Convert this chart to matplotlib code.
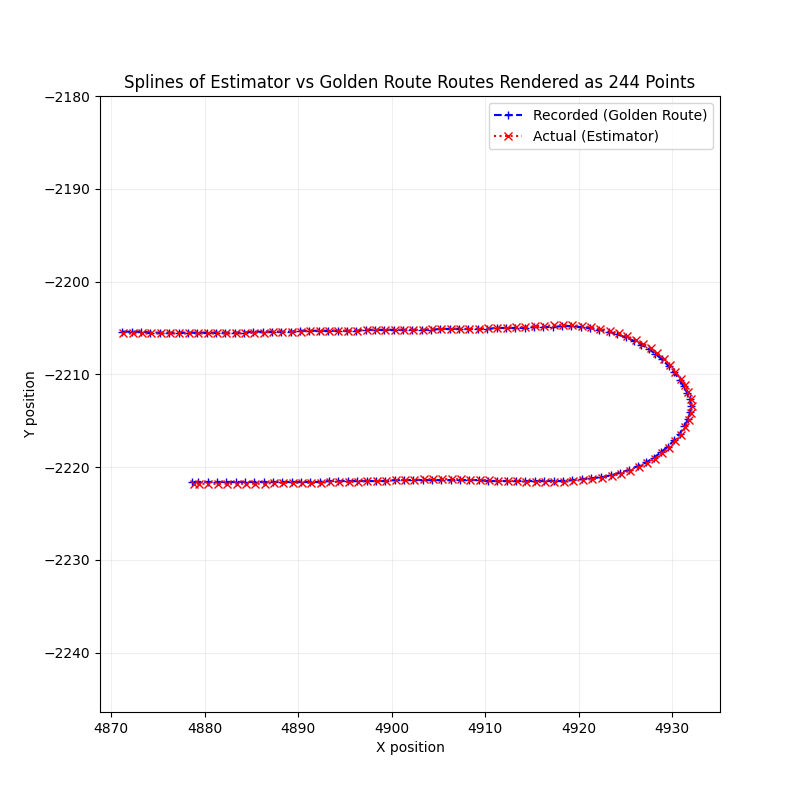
import matplotlib
matplotlib.use("Agg")
import matplotlib.pyplot as plt

rec_x = [4871.2,4872.2,4873.2,4874.2,4875.2,4876.2,4877.2,4878.2,4879.2,4880.2,4881.2,4882.2,4883.2,4884.2,4885.2,4886.2,4887.2,4888.2,4889.2,4890.2,
         4891.2,4892.2,4893.2,4894.2,4895.2,4896.2,4897.2,4898.2,4899.2,4900.2,4901.2,4902.2,4903.2,4904.2,4905.2,4906.2,4907.2,4908.2,4909.2,4910.2,
         4911.2,4912.2,4913.2,4914.2,4915.2,4916.2,4917.2,
         4918.2,4919.2,4920.2,4921.2,4922.2,4923.2,4924.1,4925.0,4925.9,4926.7,4927.5,4928.2,4928.9,4929.6,4930.2,4930.8,4931.2,4931.6,4931.9,4932.0,
         4931.9,4931.7,4931.3,4930.8,4930.2,4929.5,4928.8,4928.0,4927.2,4926.3,4925.4,4924.4,4923.4,4922.4,4921.3,4920.3,4919.3,4918.3,4917.3,
         4916.3,4915.3,4914.3,4913.3,4912.3,4911.3,4910.3,4909.3,4908.3,4907.3,4906.3,4905.3,4904.3,4903.3,4902.3,4901.3,4900.3,4899.3,4898.3,4897.3,
         4896.3,4895.3,4894.3,4893.3,4892.3,4891.3,4890.3,4889.3,4888.3,4887.3,4886.3,4885.3,4884.3,4883.3,4882.3,4881.3,4880.3,4879.3,4878.6]
rec_y = [-2205.4,-2205.4,-2205.4,-2205.5,-2205.5,-2205.5,-2205.5,-2205.5,-2205.5,-2205.5,-2205.5,-2205.5,-2205.5,-2205.5,-2205.4,-2205.4,-2205.4,-2205.4,-2205.4,-2205.3,
         -2205.3,-2205.3,-2205.3,-2205.3,-2205.3,-2205.3,-2205.2,-2205.2,-2205.2,-2205.2,-2205.2,-2205.2,-2205.2,-2205.2,-2205.1,-2205.1,-2205.1,-2205.1,-2205.1,-2205.1,
         -2205.0,-2205.0,-2205.0,-2205.0,-2204.9,-2204.9,-2204.9,
         -2204.8,-2204.8,-2204.9,-2205.0,-2205.2,-2205.4,-2205.7,-2206.0,-2206.4,-2206.8,-2207.3,-2207.8,-2208.4,-2209.1,-2209.8,-2210.6,-2211.3,-2212.0,-2212.7,-2213.4,
         -2214.1,-2214.8,-2215.6,-2216.4,-2217.1,-2217.8,-2218.4,-2219.0,-2219.5,-2219.9,-2220.3,-2220.6,-2220.9,-2221.1,-2221.2,-2221.3,-2221.4,-2221.5,-2221.5,
         -2221.5,-2221.5,-2221.5,-2221.5,-2221.5,-2221.5,-2221.5,-2221.4,-2221.4,-2221.4,-2221.4,-2221.4,-2221.4,-2221.4,-2221.4,-2221.4,-2221.4,-2221.5,-2221.5,-2221.5,
         -2221.5,-2221.5,-2221.5,-2221.5,-2221.6,-2221.6,-2221.6,-2221.6,-2221.6,-2221.6,-2221.6,-2221.6,-2221.6,-2221.6,-2221.6,-2221.6,-2221.6,-2221.6,-2221.6]

est_x = [4871.3,4872.3,4873.3,4874.3,4875.3,4876.3,4877.3,4878.3,4879.3,4880.3,4881.3,4882.3,4883.3,4884.3,4885.3,4886.3,4887.3,4888.3,4889.3,4890.3,
         4891.3,4892.3,4893.3,4894.3,4895.3,4896.3,4897.3,4898.3,4899.3,4900.3,4901.3,4902.3,4903.3,4904.3,4905.3,4906.3,4907.3,4908.3,4909.3,4910.3,
         4911.3,4912.3,4913.3,4914.3,4915.3,4916.3,4917.3,
         4918.3,4919.3,4920.3,4921.3,4922.3,4923.3,4924.3,4925.2,4926.1,4926.9,4927.7,4928.4,4929.1,4929.7,4930.3,4930.9,4931.4,4931.7,4932.0,4932.1,
         4932.0,4931.8,4931.4,4930.9,4930.3,4929.6,4928.9,4928.1,4927.3,4926.4,4925.5,4924.5,4923.5,4922.5,4921.4,4920.4,4919.4,4918.4,4917.4,
         4916.4,4915.4,4914.4,4913.4,4912.4,4911.4,4910.4,4909.4,4908.4,4907.4,4906.4,4905.4,4904.4,4903.4,4902.4,4901.4,4900.4,4899.4,4898.4,4897.4,
         4896.4,4895.4,4894.4,4893.4,4892.4,4891.4,4890.4,4889.4,4888.4,4887.4,4886.4,4885.4,4884.4,4883.4,4882.4,4881.4,4880.4,4879.4,4878.8]
est_y = [-2205.6,-2205.6,-2205.6,-2205.6,-2205.6,-2205.6,-2205.6,-2205.6,-2205.6,-2205.6,-2205.6,-2205.6,-2205.6,-2205.6,-2205.5,-2205.5,-2205.4,-2205.4,-2205.4,-2205.4,
         -2205.3,-2205.3,-2205.3,-2205.3,-2205.3,-2205.3,-2205.2,-2205.2,-2205.2,-2205.2,-2205.2,-2205.2,-2205.2,-2205.1,-2205.1,-2205.1,-2205.1,-2205.1,-2205.1,-2205.0,
         -2205.0,-2205.0,-2204.9,-2204.9,-2204.8,-2204.8,-2204.7,
         -2204.7,-2204.7,-2204.8,-2204.9,-2205.1,-2205.3,-2205.6,-2205.9,-2206.3,-2206.7,-2207.2,-2207.7,-2208.3,-2209.0,-2209.7,-2210.5,-2211.2,-2211.9,-2212.7,-2213.4,
         -2214.2,-2214.9,-2215.7,-2216.5,-2217.2,-2217.9,-2218.5,-2219.1,-2219.6,-2220.0,-2220.4,-2220.7,-2221.0,-2221.2,-2221.3,-2221.4,-2221.5,-2221.6,-2221.6,
         -2221.6,-2221.6,-2221.6,-2221.5,-2221.5,-2221.5,-2221.4,-2221.4,-2221.4,-2221.3,-2221.3,-2221.3,-2221.3,-2221.3,-2221.4,-2221.4,-2221.4,-2221.5,-2221.5,-2221.5,
         -2221.6,-2221.6,-2221.6,-2221.6,-2221.7,-2221.7,-2221.7,-2221.7,-2221.7,-2221.7,-2221.8,-2221.8,-2221.8,-2221.8,-2221.8,-2221.8,-2221.8,-2221.8,-2221.8]

fig, ax = plt.subplots(figsize=(8, 8), dpi=100)
fig.subplots_adjust(left=0.125, right=0.9, bottom=0.11, top=0.88)
ax.plot(rec_x, rec_y, color="blue", linestyle="--", marker="+", label="Recorded (Golden Route)")
ax.plot(est_x, est_y, color="red", linestyle=":", marker="x", label="Actual (Estimator)")
ax.set_xlim(4868.8, 4935.1)
ax.set_ylim(-2246.4, -2180.0)
ax.grid(True, alpha=0.2)
ax.set_xlabel("X position")
ax.set_ylabel("Y position")
ax.set_title("Splines of Estimator vs Golden Route Routes Rendered as 244 Points")
ax.legend(loc="upper right")
fig.savefig("out.png")
